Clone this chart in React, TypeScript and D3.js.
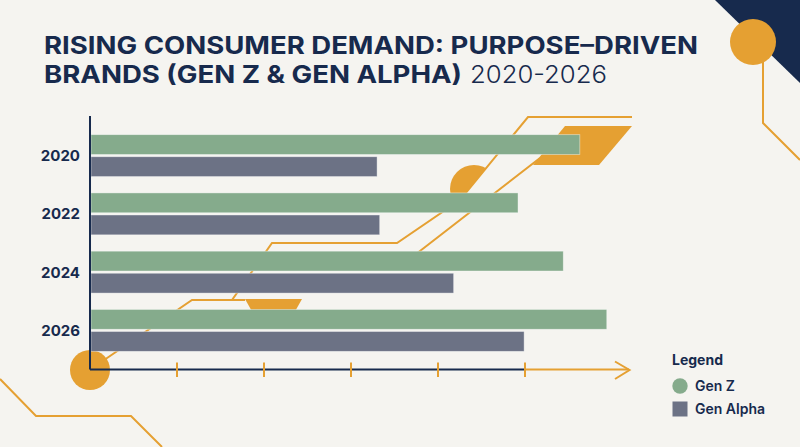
import * as d3 from "d3"

// values (x axis unitless, ticks every 10)
const years = ["2020", "2022", "2024", "2026"]
const genZ = [56.3, 49.2, 54.4, 59.4]
const genAlpha = [33.0, 33.3, 41.8, 49.9]
const xTicks = [10, 20, 30, 40, 50]
const seriesKeys = ["Gen Z", "Gen Alpha"]

const W = 800
const H = 447
const BG = "#f5f4f0"
const NAVY = "#172a4d"
const ORANGE = "#e5a032"
const GREEN = "#85ab8c"
const SLATE = "#6c7285"
const FONT = "Inter, 'Open Sans', sans-serif"

export default function App() {
  const x = d3.scaleLinear().domain([0, 50]).range([90, 525])
  const y = d3.scaleBand<string>().domain(years).range([126.5, 359.5]).paddingInner(0.28).paddingOuter(0.14)
  const sub = d3.scaleBand<string>().domain(seriesKeys).range([0, y.bandwidth()]).paddingInner(0.1)
  const x0 = x(0)
  const axisY = 369.5

  const line = d3.line()
  const colors = [GREEN, SLATE]
  const series = [genZ, genAlpha]

  return (
    <svg
      width={W}
      height={H}
      viewBox={`0 0 ${W} ${H}`}
      style={{ display: "block", position: "fixed", top: 0, left: 0 }}
    >
      <defs>
        <clipPath id="half-circle">
          <polygon points="420,100 542,100 460,200 420,200" />
        </clipPath>
      </defs>
      <rect width={W} height={H} fill={BG} />

      {/* corner decoration */}
      <path d="M715,0 L800,0 L800,83 Z" fill={NAVY} />
      <path
        d={line([[763, 50], [763, 123], [800, 160]])!}
        fill="none"
        stroke={ORANGE}
        strokeWidth={2}
      />
      <circle cx={753} cy={42} r={23} fill={ORANGE} />

      {/* background circuit lines */}
      <path
        d={line([[632, 117], [528, 117], [460, 200], [397, 243], [272, 243], [232, 300], [192, 300], [91, 369]])!}
        fill="none"
        stroke={ORANGE}
        strokeWidth={2}
      />
      <path d={line([[192, 300], [245, 300]])!} fill="none" stroke={ORANGE} strokeWidth={2} />
      <path d={line([[540, 158], [420, 251], [400, 266]])!} fill="none" stroke={ORANGE} strokeWidth={2} />
      <path d="M565,126 L632,126 L599,165 L533,165 Z" fill={ORANGE} />
      <circle cx={474} cy={189} r={24} fill={ORANGE} clipPath="url(#half-circle)" />
      <path d="M245,299 L302,299 L293,315 L254,315 Z" fill={ORANGE} />
      <path
        d={line([[0, 379], [36, 416], [131, 416], [162, 447]])!}
        fill="none"
        stroke={ORANGE}
        strokeWidth={2}
      />
      <circle cx={90} cy={370} r={20} fill={ORANGE} />

      {/* title */}
      <text x={44} y={54} fontFamily={FONT} fontWeight={700} fontSize={24} fill={NAVY} textLength={654} lengthAdjust="spacingAndGlyphs">
        RISING CONSUMER DEMAND: PURPOSE–DRIVEN
      </text>
      <text x={44} y={83} fontFamily={FONT} fontWeight={700} fontSize={24} fill={NAVY} textLength={418} lengthAdjust="spacingAndGlyphs">
        BRANDS (GEN Z &amp; GEN ALPHA)
      </text>
      <text x={470} y={83} fontFamily={FONT} fontWeight={300} fontSize={24} fill={NAVY} textLength={137} lengthAdjust="spacingAndGlyphs">
        2020-2026
      </text>

      {/* bars */}
      {years.map((yr, i) => (
        <g key={yr} transform={`translate(0,${y(yr)})`}>
          {seriesKeys.map((k, j) => (
            <rect
              key={k}
              x={x0 + 1}
              y={sub(k)}
              width={x(series[j][i]) - x0 - 1}
              height={sub.bandwidth()}
              fill={colors[j]}
              stroke="#ffffff"
              strokeOpacity={0.5}
              strokeWidth={0.8}
            />
          ))}
          <text
            x={80}
            y={y.bandwidth() / 2}
            dy="0.36em"
            textAnchor="end"
            fontFamily={FONT}
            fontWeight={700}
            fontSize={15}
            fill={NAVY}
          >
            {yr}
          </text>
        </g>
      ))}

      {/* axes */}
      <line x1={x0} x2={x0} y1={116} y2={axisY} stroke={NAVY} strokeWidth={2} />
      <line x1={x0} x2={x(50)} y1={axisY} y2={axisY} stroke={NAVY} strokeWidth={2} />
      <line x1={x(50)} x2={629} y1={axisY} y2={axisY} stroke={ORANGE} strokeWidth={2} />
      <path d={line([[615, 361.5], [629.5, 370], [615, 379]])!} fill="none" stroke={ORANGE} strokeWidth={2} />
      {xTicks.map((t) => (
        <line key={t} x1={x(t)} x2={x(t)} y1={362.5} y2={377} stroke={ORANGE} strokeWidth={2} />
      ))}

      {/* legend */}
      <text x={672} y={365} fontFamily={FONT} fontWeight={700} fontSize={14} fill={NAVY}>
        Legend
      </text>
      <circle cx={680} cy={386} r={7.7} fill={GREEN} />
      <text x={695} y={391} fontFamily={FONT} fontWeight={600} fontSize={14} fill={NAVY}>
        Gen Z
      </text>
      <rect x={672.5} y={401.5} width={15} height={15} fill={SLATE} />
      <text x={695} y={414} fontFamily={FONT} fontWeight={600} fontSize={14} fill={NAVY}>
        Gen Alpha
      </text>
    </svg>
  )
}
